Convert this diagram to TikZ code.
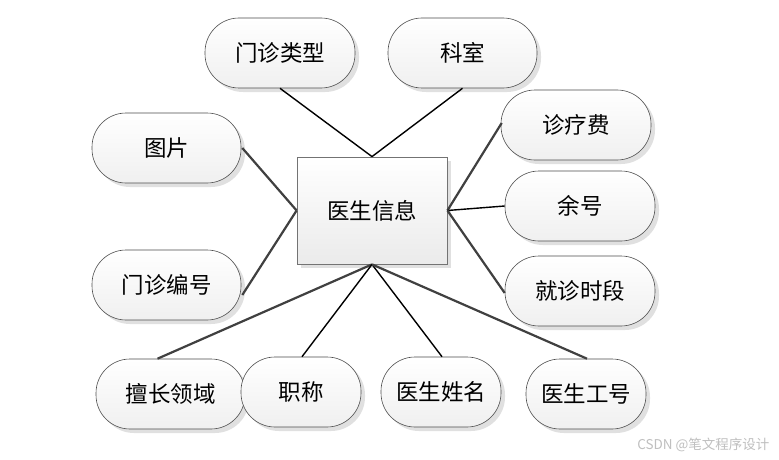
\documentclass[tikz,border=0pt]{standalone}
\usepackage{fontspec}
\newfontfamily\cjk{Noto Sans CJK SC}
\usetikzlibrary{shadows,calc}
\begin{document}
\begin{tikzpicture}[x=1pt,y=-1pt,
  attr/.style={draw=black!70, line width=0.6pt, rounded corners=34pt,
    top color=white, bottom color=black!6, minimum height=70pt,
    drop shadow={shadow xshift=4pt, shadow yshift=-4pt, fill=black!12, opacity=1},
    font=\cjk\fontsize{22.5}{26}\selectfont, inner sep=0pt},
  ent/.style={draw=black!55, line width=0.8pt,
    top color=white, bottom color=black!8, minimum width=150pt, minimum height=107pt,
    drop shadow={shadow xshift=4pt, shadow yshift=-4pt, fill=black!12, opacity=1},
    font=\cjk\fontsize{22.5}{26}\selectfont, inner sep=0pt},
  thick line/.style={draw=black!75, line width=2.2pt},
  thin line/.style={draw=black, line width=1.4pt}]
\useasboundingbox (0,0) rectangle (779,460);
\fill[white] (0,0) rectangle (779,460);

\node[ent] (c) at (372,210.5) {医生信息};

\node[attr, minimum width=150pt] (lx) at (280,53) {门诊类型};
\node[attr, minimum width=149pt] (ks) at (462.5,53) {科室};
\node[attr, minimum width=149pt] (tp) at (166.5,148) {图片};
\node[attr, minimum width=150pt] (zlf) at (576,125) {诊疗费};
\node[attr, minimum width=150pt] (yh) at (580,206) {余号};
\node[attr, minimum width=149pt] (bh) at (166.5,285) {门诊编号};
\node[attr, minimum width=150pt] (sd) at (580,291) {就诊时段};
\node[attr, minimum width=149pt] (sc) at (170.5,394) {擅长领域};
\node[attr, minimum width=120pt] (zc) at (301,392) {职称};
\node[attr, minimum width=120pt] (xm) at (441,392) {医生姓名};
\node[attr, minimum width=120pt] (gh) at (586,394) {医生工号};

\coordinate (ct) at (c.north);
\coordinate (cb) at (c.south);
\coordinate (cl) at (c.west);
\coordinate (cr) at (c.east);

\draw[thin line] (lx.south) -- (ct);
\draw[thin line] (ks.south) -- (ct);
\draw[thick line] ($(tp.east)+(1,0)$) -- (cl);
\draw[thick line] ($(bh.east)+(1,10)$) -- (cl);
\draw[thick line] ($(zlf.west)+(1,-2)$) -- (cr);
\draw[thin line] (yh.west) -- (cr);
\draw[thick line] ($(sd.west)+(0,2)$) -- (cr);
\draw[thick line] (cb) -- ($(sc.north)+(-13,0)$);
\draw[thin line] (cb) -- ($(zc.north)+(1,0)$);
\draw[thin line] (cb) -- ($(xm.north)+(1,0)$);
\draw[thick line] (cb) -- ($(gh.north)+(1,0)$);

\node[font=\cjk\fontsize{13.5}{16}\selectfont, text=black!25, anchor=east] (wm) at (773,445) {CSDN @笔文程序设计};
\end{tikzpicture}
\end{document}
